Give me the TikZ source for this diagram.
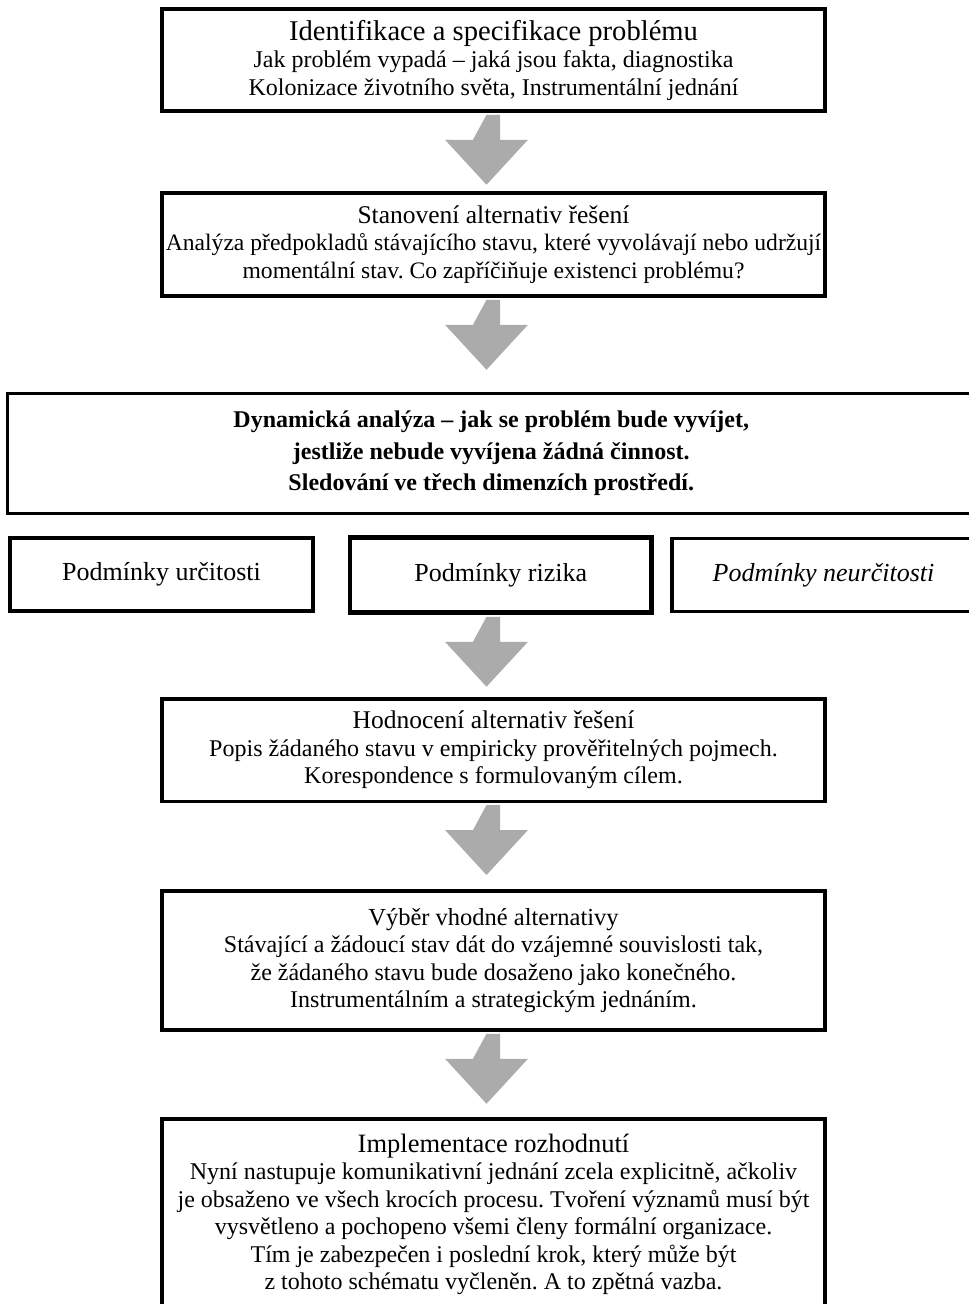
\documentclass[tikz,border=0pt]{standalone}
\usepackage{fontspec}
\setmainfont{Liberation Serif}
\usetikzlibrary{calc}

\tikzset{
	stage/.style={draw, line width=3.5pt, minimum width=663pt, inner sep=0pt,
		align=center, font=\fontsize{24}{27.5}\selectfont\frenchspacing},
	cond/.style={draw, line width=3.5pt, minimum width=303pt, minimum height=73pt,
		inner sep=0pt, align=center, font=\fontsize{26}{30}\selectfont},
	arrowfill/.style={fill=black!33},
}
% gray block arrow below a box, aimed at the next one
\newcommand{\flowarrow}[2]{
	\fill[arrowfill] ($(#1.south -| axis)+(0,2)$) coordinate (s) -- ++(13.5,0) -- ++(0,25)
	-- ++(28,0) -- ($(s)!70pt!(#2.north -| axis)$) -- ($(s)+(-41.5,25)$)
	-- ++(28,0) -- cycle;
}

\begin{document}
\begin{tikzpicture}[x=1pt,y=-1pt]
	\useasboundingbox (0,0) rectangle (969,1304);
	\coordinate (axis) at (486.5,0);

	\node[stage, minimum height=102pt] (ident) at (493.5,60)
		{{\fontsize{28.6}{28}\selectfont Identifikace a specifikace problému}\\
		 Jak problém vypadá – jaká jsou fakta, diagnostika\\
		 Kolonizace životního světa, Instrumentální jednání};
	\node[stage, minimum height=103pt, font=\fontsize{23.6}{27.5}\selectfont\frenchspacing]
		(altern) at (493.5,244.5)
		{{\fontsize{25.5}{27.5}\selectfont Stanovení alternativ řešení}\\
		 Analýza předpokladů stávajícího stavu, které vyvolávají nebo udržují\\
		 momentální stav. Co zapříčiňuje existenci problému?};
	\node[stage, minimum width=967.5pt, minimum height=119.5pt, line width=3pt,
		font=\fontsize{24}{31.5}\selectfont\bfseries] (dyn) at (491.25,453.25)
		{Dynamická analýza – jak se problém bude vyvíjet,\\
		 jestliže nebude vyvíjena žádná činnost.\\
		 Sledování ve třech dimenzích prostředí.};

	\node[cond] (certain) at (161.5,574.5) {Podmínky určitosti};
	\node[cond, minimum width=301.5pt, minimum height=75pt, line width=4.5pt] (risk)
		at (500.75,575) {Podmínky rizika};
	\node[cond] (uncert) at (823.5,575) {\itshape Podmínky neurčitosti};

	\node[stage, minimum height=102.5pt] (eval) at (493.5,750)
		{{\fontsize{25.5}{27.5}\selectfont Hodnocení alternativ řešení}\\
		 Popis žádaného stavu v empiricky prověřitelných pojmech.\\
		 Korespondence s formulovaným cílem.};
	\node[stage, minimum height=139pt] (choice) at (493.5,960.5)
		{{\fontsize{24.5}{27.5}\selectfont Výběr vhodné alternativy}\\
		 Stávající a žádoucí stav dát do vzájemné souvislosti tak,\\
		 že žádaného stavu bude dosaženo jako konečného.\\
		 Instrumentálním a strategickým jednáním.};
	\node[stage, minimum height=191pt] (impl) at (493.5,1214.5)
		{{\fontsize{26.5}{28}\selectfont Implementace rozhodnutí}\\
		 Nyní nastupuje komunikativní jednání zcela explicitně, ačkoliv\\
		 je obsaženo ve všech krocích procesu. Tvoření významů musí být\\
		 vysvětleno a pochopeno všemi členy formální organizace.\\
		 Tím je zabezpečen i poslední krok, který může být\\
		 z tohoto schématu vyčleněn. A to zpětná vazba.};

	\flowarrow{ident}{altern}
	\flowarrow{altern}{dyn}
	\flowarrow{risk}{eval}
	\flowarrow{eval}{choice}
	\flowarrow{choice}{impl}
\end{tikzpicture}
\end{document}
